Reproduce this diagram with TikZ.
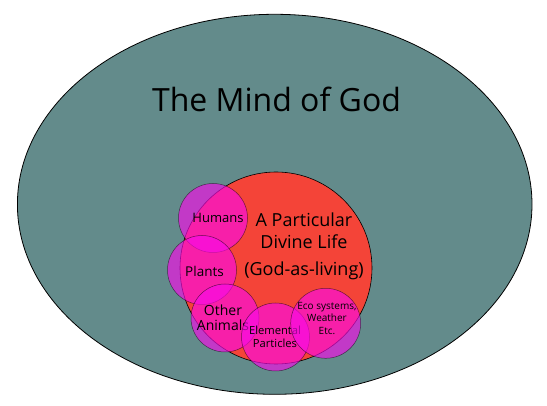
\documentclass[tikz,border=0pt]{standalone}
\usepackage{fontspec}
\setmainfont{Open Sans}
\usetikzlibrary{shapes.geometric}
\definecolor{mindteal}{RGB}{99,139,139}
\definecolor{lifered}{RGB}{244,68,56}
\definecolor{lifemag}{RGB}{250,10,235}
\begin{document}
\begin{tikzpicture}[x=1pt,y=-1pt,
  realm/.style={ellipse, draw=black, line width=0.8pt, fill=mindteal, inner sep=0pt},
  lifecircle/.style={circle, draw=black, line width=0.6pt, fill=lifered, inner sep=0pt},
  sub/.style={circle, draw=black, draw opacity=0.55, line width=0.5pt, fill=lifemag, fill opacity=0.63, text opacity=1, inner sep=0pt},
  lbl/.style={align=center, inner sep=0pt, text=black}]
\useasboundingbox (0,0) rectangle (547,406);
\node[realm, minimum width=514.6pt, minimum height=380pt] (mind) at (274.7,204.3) {};
\node[lbl, font=\fontsize{32}{38}\selectfont] (title) at (276.5,99) {The Mind of God};
\node[lifecircle, minimum size=192pt] (life) at (276,268) {};
\node[lbl, font=\fontsize{18}{22}\selectfont] (lifetext) at (304,246) {A Particular\\Divine Life\\[5pt](God-as-living)};
\node[sub, minimum size=69pt] (humans) at (213,218) {};
\node[lbl, font=\fontsize{13}{15}\selectfont] (humanstext) at (218,218) {Humans};
\node[sub, minimum size=69pt] (plants) at (202,270) {};
\node[lbl, font=\fontsize{13.5}{15}\selectfont] (plantstext) at (204.5,271.5) {Plants};
\node[sub, minimum size=68pt] (animals) at (225,318) {};
\node[lbl, font=\fontsize{14}{15}\selectfont] (animalstext) at (223,317.5) {Other\\Animals};
\node[sub, minimum size=68pt] (elemental) at (275.5,337) {};
\node[lbl, font=\fontsize{11.2}{12.6}\selectfont] (elementaltext) at (275,337) {Elemental\\Particles};
\node[sub, minimum size=70pt] (eco) at (325.7,323.3) {};
\node[lbl, font=\fontsize{10}{12.5}\selectfont] (ecotext) at (327,318.3) {Eco systems,\\Weather\\Etc.};
\end{tikzpicture}
\end{document}
